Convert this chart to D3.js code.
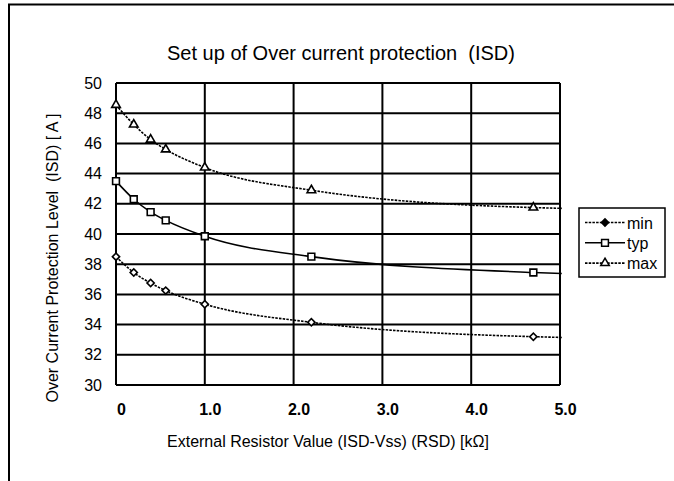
<!DOCTYPE html>
<html>
<head>
<meta charset="utf-8">
<script src="https://cdn.jsdelivr.net/npm/d3@7"></script>
<style>
  body { margin: 0; background: #fff; }
  text { font-family: "Liberation Sans", Arial, sans-serif; fill: #000; }
</style>
</head>
<body>
<div id="container"></div>
<script>
// data
const xValues = [0, 0.2, 0.39, 0.56, 1.0, 2.2, 4.7];
const minValues = [38.5, 37.45, 36.75, 36.25, 35.35, 34.15, 33.2];
const typValues = [43.5, 42.3, 41.45, 40.9, 39.85, 38.5, 37.45];
const maxValues = [48.55, 47.25, 46.25, 45.6, 44.4, 42.9, 41.75];
// where the fitted curves stop, just past the right edge
const trendEndX = 5.02;
const trendEnd = {min: 33.15, typ: 37.38, max: 41.7};

const xTicks = [0, 1, 2, 3, 4, 5];
const xTickLabels = ["0", "1.0", "2.0", "3.0", "4.0", "5.0"];
const yTicks = [30, 32, 34, 36, 38, 40, 42, 44, 46, 48, 50];

const W = 674, H = 481;
const plot = {left: 116, right: 560, top: 83, bottom: 385};

const svg = d3.select("#container")
  .append("svg")
    .attr("width", W)
    .attr("height", H);

// outer chart frame (only top and left visible)
svg.append("path")
  .attr("d", `M9,${H} V4.5 H${W}`)
  .attr("fill", "none")
  .attr("stroke", "#000")
  .attr("stroke-width", 2);

const x = d3.scaleLinear().domain([0, 5]).range([plot.left, plot.right]);
const y = d3.scaleLinear().domain([30, 50]).range([plot.bottom, plot.top]);

// grid lines
svg.append("g")
  .selectAll("line.v")
  .data(xTicks)
  .join("line")
    .attr("x1", d => x(d)).attr("x2", d => x(d))
    .attr("y1", plot.top).attr("y2", plot.bottom)
    .attr("stroke", "#000").attr("stroke-width", 2);

svg.append("g")
  .selectAll("line.h")
  .data(yTicks)
  .join("line")
    .attr("x1", plot.left).attr("x2", plot.right)
    .attr("y1", d => y(d)).attr("y2", d => y(d))
    .attr("stroke", "#000").attr("stroke-width", 2);

// y axis labels
const yAxis = svg.append("g")
  .attr("transform", `translate(${plot.left},0)`)
  .call(d3.axisLeft(y).tickValues(yTicks).tickSize(0).tickPadding(14).tickFormat(d3.format("d")));
yAxis.select(".domain").remove();
yAxis.selectAll("text")
  .style("font-family", "'Liberation Sans', Arial, sans-serif")
  .style("font-size", "16px")
  .attr("fill", "#000");

// x axis labels
const xAxis = svg.append("g")
  .attr("transform", `translate(0,${plot.bottom})`)
  .call(d3.axisBottom(x).tickValues(xTicks).tickSize(0).tickPadding(18.6)
    .tickFormat((d, i) => xTickLabels[i]));
xAxis.select(".domain").remove();
xAxis.selectAll("text")
  .attr("dx", 5)
  .style("font-family", "'Liberation Sans', Arial, sans-serif")
  .style("font-size", "16px")
  .style("font-weight", "bold")
  .attr("fill", "#000");

// titles
svg.append("text")
  .attr("x", 167).attr("y", 60)
  .style("font-size", "20px")
  .text("Set up of Over current protection\u00a0\u00a0(ISD)");

svg.append("text")
  .attr("x", 328).attr("y", 447)
  .attr("text-anchor", "middle")
  .style("font-size", "16px")
  .text("External Resistor Value (ISD-Vss) (RSD) [kΩ]");

svg.append("text")
  .attr("transform", "translate(58,258) rotate(-90)")
  .attr("text-anchor", "middle")
  .style("font-size", "16px")
  .text("Over Current Protection Level\u00a0\u00a0(ISD) [ A ]");

// series (diamond = square turned 45 degrees)
const series = [
  {name: "min", values: minValues, end: trendEnd.min, dash: "2.5,1.2", symbol: d3.symbolSquare, size: 26, rot: 45, legendFill: "#000"},
  {name: "typ", values: typValues, end: trendEnd.typ, dash: null, symbol: d3.symbolSquare, size: 46, rot: 0, legendFill: "#fff"},
  {name: "max", values: maxValues, end: trendEnd.max, dash: "2.5,1.2", symbol: d3.symbolTriangle, size: 32, rot: 0, legendFill: "#fff"}
];

const line = d3.line()
  .x(d => x(d[0]))
  .y(d => y(d[1]))
  .curve(d3.curveMonotoneX);

series.forEach(s => {
  const pts = xValues.map((v, i) => [v, s.values[i]]);
  pts.push([trendEndX, s.end]);

  svg.append("path")
    .datum(pts)
    .attr("fill", "none")
    .attr("stroke", "#000")
    .attr("stroke-width", 1.6)
    .attr("stroke-dasharray", s.dash)
    .attr("d", line);

  svg.append("g")
    .selectAll("path")
    .data(xValues.map((v, i) => [v, s.values[i]]))
    .join("path")
      .attr("transform", d => `translate(${x(d[0])},${y(d[1])}) rotate(${s.rot})`)
      .attr("d", d3.symbol().type(s.symbol).size(s.size))
      .attr("fill", "#fff")
      .attr("stroke", "#000")
      .attr("stroke-width", 1.6);
});

// legend
const legend = svg.append("g");
legend.append("rect")
  .attr("x", 579).attr("y", 208)
  .attr("width", 86).attr("height", 69)
  .attr("fill", "#fff")
  .attr("stroke", "#000")
  .attr("stroke-width", 1.5);

series.forEach((s, i) => {
  const ly = 222.5 + i * 20.3;
  legend.append("line")
    .attr("x1", 585).attr("x2", 625)
    .attr("y1", ly).attr("y2", ly)
    .attr("stroke", "#000")
    .attr("stroke-width", 1.6)
    .attr("stroke-dasharray", s.dash);
  legend.append("path")
    .attr("transform", `translate(605,${ly}) rotate(${s.rot})`)
    .attr("d", d3.symbol().type(s.symbol).size(s.size))
    .attr("fill", s.legendFill)
    .attr("stroke", "#000")
    .attr("stroke-width", 1.5);
  legend.append("text")
    .attr("x", 627).attr("y", ly + 6)
    .style("font-size", "16px")
    .text(s.name);
});
</script>
</body>
</html>
